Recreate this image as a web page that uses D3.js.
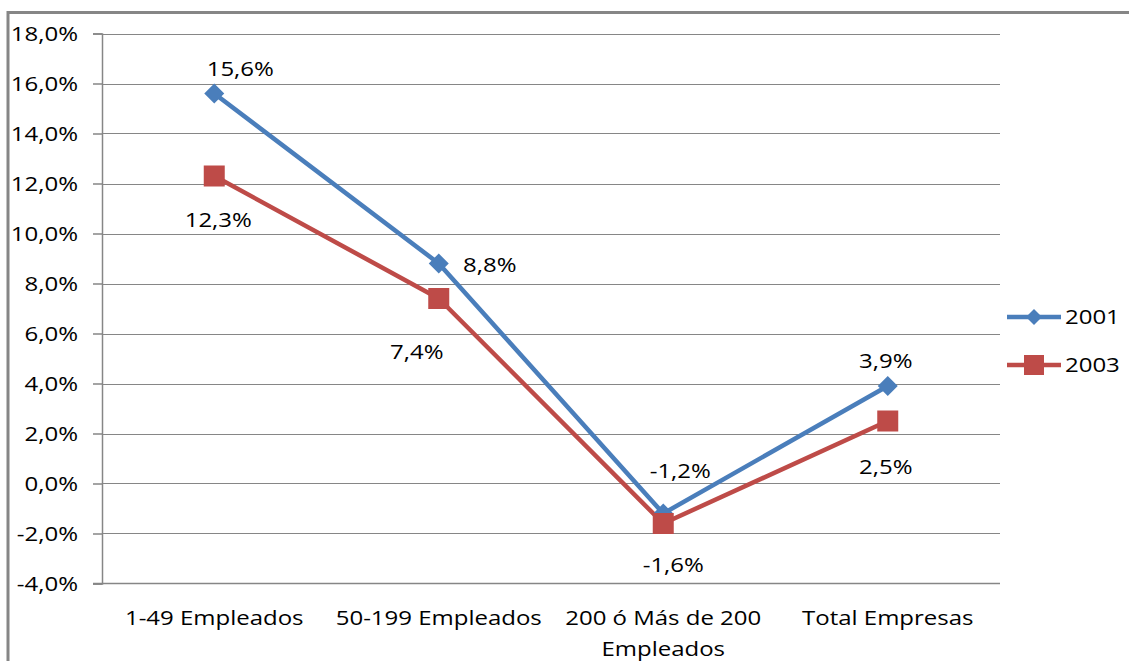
<!DOCTYPE html>
<html><head><meta charset="utf-8">
<script src="https://cdn.jsdelivr.net/npm/d3@7"></script>
<style>
body{margin:0;background:#fff;}
svg{display:block;font-family:"Open Sans",sans-serif;}
</style></head>
<body><svg id="c" width="1129" height="661"></svg>
<script>
const categories = ["1-49 Empleados", "50-199 Empleados", "200 ó Más de 200|Empleados", "Total Empresas"];
const series2001 = [15.6, 8.8, -1.2, 3.9];
const series2003 = [12.3, 7.4, -1.6, 2.5];
const seriesNames = ["2001", "2003"];
const yTicks = [-4, -2, 0, 2, 4, 6, 8, 10, 12, 14, 16, 18];

const svg = d3.select("#c");
const W = 1129, H = 661;
const m = {left: 102, right: 1000, top: 33.5, bottom: 583.5};
const FS = 20.5;
const fmt = v => v.toFixed(1).replace(".", ",") + "%";

// outer border
svg.append("path").attr("d", `M8,${H+5} L8,12.5 L${W+5},12.5`)
  .attr("fill", "none").attr("stroke", "#868686").attr("stroke-width", 3);

const x = d3.scaleBand().domain(categories).range([m.left, m.right]);
const y = d3.scaleLinear().domain([-4, 18]).range([m.bottom, m.top]);

// gridlines
svg.append("g").selectAll("line").data(yTicks.filter(t => t !== -4)).join("line")
  .attr("x1", m.left).attr("x2", m.right)
  .attr("y1", d => Math.round(y(d)) + 0.5).attr("y2", d => Math.round(y(d)) + 0.5)
  .attr("stroke", "#868686").attr("stroke-width", 1);

// y axis
const yAxis = d3.axisLeft(y).tickValues(yTicks).tickFormat(fmt).tickSize(9).tickPadding(15);
const gy = svg.append("g").attr("transform", `translate(${m.left},0)`).call(yAxis);
gy.select(".domain").attr("stroke", "#868686").attr("stroke-width", 1.5);
gy.selectAll(".tick line").attr("stroke", "#868686").attr("stroke-width", 1.5);
gy.selectAll(".tick text").attr("font-size", FS).attr("fill", "#000")
  .attr("font-family", "Open Sans").attr("dy", "0.35em");

// x axis line
svg.append("line").attr("x1", m.left - 9).attr("x2", m.right)
  .attr("y1", y(-4)).attr("y2", y(-4)).attr("stroke", "#868686").attr("stroke-width", 1.5);

// category labels
const cl = svg.append("g").selectAll("text").data(categories).join("text")
  .attr("x", d => x(d) + x.bandwidth() / 2)
  .attr("y", 625)
  .attr("text-anchor", "middle").attr("font-size", FS).attr("fill", "#000");
cl.each(function(d) {
  const parts = d.split("|");
  const t = d3.select(this);
  parts.forEach((p, i) => t.append("tspan").attr("x", x(d) + x.bandwidth() / 2)
    .attr("dy", i === 0 ? 0 : 31).text(p));
});

const cx = (d, i) => x(categories[i]) + x.bandwidth() / 2;
const colors = ["#4a7ebb", "#be4b48"];
const data = [series2001, series2003];
const line = d3.line().x((d, i) => cx(d, i)).y(d => y(d));

data.forEach((s, si) => {
  svg.append("path").datum(s).attr("d", line).attr("fill", "none")
    .attr("stroke", colors[si]).attr("stroke-width", 4.5).attr("stroke-linejoin", "round");
});

// markers
const diamond = (px, py, r) => `M${px},${py - r}L${px + r},${py}L${px},${py + r}L${px - r},${py}Z`;
svg.append("g").selectAll("path").data(series2001).join("path")
  .attr("d", (d, i) => diamond(cx(d, i), y(d), 10)).attr("fill", colors[0]);
svg.append("g").selectAll("rect").data(series2003).join("rect")
  .attr("x", (d, i) => cx(d, i) - 10.5).attr("y", d => y(d) - 10.5)
  .attr("width", 21).attr("height", 21).attr("fill", colors[1]);

// data labels (offsets relative to points)
const off2001 = [[26, -25], [51, 1], [17, -43], [-2, -25]];
const off2003 = [[4, 44], [-22, 53], [10, 41], [-2, 46]];
[[series2001, off2001], [series2003, off2003]].forEach(([s, off]) => {
  svg.append("g").selectAll("text").data(s).join("text")
    .attr("x", (d, i) => cx(d, i) + off[i][0])
    .attr("y", (d, i) => y(d) + off[i][1])
    .attr("dy", "0.35em").attr("text-anchor", "middle")
    .attr("font-size", FS).attr("fill", "#000").text(fmt);
});

// legend
const lg = svg.append("g");
seriesNames.forEach((n, i) => {
  const ly = 317 + i * 48;
  lg.append("line").attr("x1", 1007).attr("x2", 1061).attr("y1", ly).attr("y2", ly)
    .attr("stroke", colors[i]).attr("stroke-width", 4.5);
  if (i === 0) lg.append("path").attr("d", diamond(1034, ly, 8)).attr("fill", colors[0]);
  else lg.append("rect").attr("x", 1024).attr("y", ly - 10).attr("width", 20).attr("height", 20).attr("fill", colors[1]);
  lg.append("text").attr("x", 1065).attr("y", ly).attr("dy", "0.35em")
    .attr("font-size", FS).attr("fill", "#000").text(n);
});

// horizontal stretch of text glyphs around their anchor (reference text is wide)
svg.selectAll("text").each(function() {
  const ax = +this.getAttribute("x") || 0;
  d3.select(this).attr("transform", `translate(${ax},0) scale(1.17,1) translate(${-ax},0)`);
});
</script></body></html>
